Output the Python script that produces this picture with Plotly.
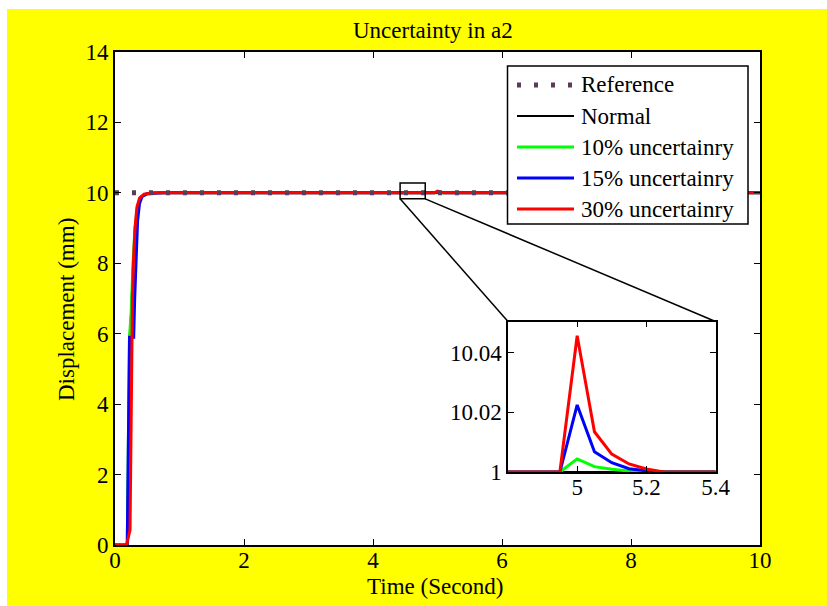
import plotly.graph_objects as go

# ---------------- data ----------------
ref_t = [0, 10]
ref_y = [10, 10]

tail_t = [0.8, 1.0, 2.0, 4.0, 4.9, 4.95, 5.0, 5.05, 5.1, 5.15, 5.2, 5.25, 5.3, 6.0, 8.0, 10.0]
normal_tail = [10, 10, 10, 10, 10, 10, 10.0, 10.0, 10.0, 10.0, 10.0, 10, 10, 10, 10, 10]
u10_tail = [10, 10, 10, 10, 10, 10, 10.0044, 10.0018, 10.0009, 10.0003, 10.0001, 10, 10, 10, 10, 10]
u15_tail = [10, 10, 10, 10, 10, 10, 10.0225, 10.0068, 10.0031, 10.0011, 10.0004, 10, 10, 10, 10, 10]
u30_tail = [10, 10, 10, 10, 10, 10, 10.0457, 10.0135, 10.006, 10.0027, 10.001, 10, 10, 10, 10, 10]

normal_rise_t = [0, 0.19, 0.225, 0.25, 0.28, 0.31, 0.35, 0.4, 0.5, 0.65]
normal_rise_y = [0, 0, 5.9, 6.6, 8.0, 9.0, 9.6, 9.88, 9.97, 10]
u10_rise_t = [0, 0.19, 0.225, 0.25, 0.28, 0.31, 0.35, 0.4, 0.5, 0.65]
u10_rise_y = [0, 0, 5.9, 6.6, 8.0, 9.0, 9.6, 9.88, 9.97, 10]
u15_rise_t = [0, 0.19, 0.225, 0.29, 0.305, 0.325, 0.35, 0.38, 0.42, 0.5, 0.7]
u15_rise_y = [0, 0, 5.9, 5.9, 7.0, 8.0, 9.2, 9.7, 9.9, 9.98, 10]
u30_rise_t = [0, 0.18, 0.233, 0.258, 0.27, 0.285, 0.31, 0.34, 0.38, 0.45, 0.6]
u30_rise_y = [0, 0, 0.43, 5.9, 7.0, 8.0, 9.0, 9.6, 9.85, 9.96, 10]

series_names = ["Normal", "10% uncertainry", "15% uncertainry", "30% uncertainry"]
series_colors = ["#000000", "#00FF00", "#0000FF", "#FF0000"]
series_widths = [2, 3, 3, 3]
series_t = [normal_rise_t + tail_t, u10_rise_t + tail_t, u15_rise_t + tail_t, u30_rise_t + tail_t]
series_y = [normal_rise_y + normal_tail, u10_rise_y + u10_tail, u15_rise_y + u15_tail, u30_rise_y + u30_tail]

ref_color = "#5B3B5B"

main_xticks = [0, 2, 4, 6, 8, 10]
main_yticks = [0, 2, 4, 6, 8, 10, 12, 14]
inset_xticks = [5, 5.2, 5.4]
inset_xtext = ["5", "5.2", "5.4"]
inset_yticks = [10.0, 10.02, 10.04]
inset_ytext = ["1", "10.02", "10.04"]

zoom_box_x = [4.42, 4.81]
zoom_box_y = [9.83, 10.28]

# ---------------- layout geometry ----------------
W, H = 827, 606
L, R, T, B = 115, 760, 52, 545
XR = [0, 10]
YR = [0, 14]
FONT = "Liberation Serif, Times New Roman, serif"
FS = 23


def px2paper(px, py):
    return (px - L) / (R - L), (B - py) / (B - T)


def data2paper(x, y):
    return (x - XR[0]) / (XR[1] - XR[0]), (y - YR[0]) / (YR[1] - YR[0])


ins_x0, ins_y0 = px2paper(508, 472)
ins_x1, ins_y1 = px2paper(715.5, 321.5)

fig = go.Figure()

for axes in [("x", "y"), ("x2", "y2")]:
    for n, c, w, t, y in zip(series_names, series_colors, series_widths, series_t, series_y):
        fig.add_trace(go.Scatter(x=t, y=y, mode="lines", name=n, xaxis=axes[0], yaxis=axes[1],
                                 line=dict(color=c, width=w), showlegend=False, hoverinfo="skip"))
fig.add_trace(go.Scatter(x=ref_t, y=ref_y, mode="lines", name="Reference",
                         line=dict(color=ref_color, width=5, dash="4px,13px"), showlegend=False))

tickfont = dict(family=FONT, size=FS, color="black")
axis_common = dict(showline=True, linecolor="black", mirror="ticks", ticks="inside",
                   ticklen=6, tickwidth=1, tickcolor="black", showgrid=False, zeroline=False,
                   tickfont=tickfont)

fig.update_layout(
    width=W, height=H,
    font=dict(family=FONT, size=FS, color="black"),
    margin=dict(l=L, r=W - R, t=T, b=H - B, pad=0),
    paper_bgcolor="white", plot_bgcolor="white",
    showlegend=False,
    xaxis=dict(range=XR, tickvals=main_xticks, linewidth=2, ticklabelstandoff=-7, **axis_common),
    yaxis=dict(range=YR, tickvals=main_yticks, linewidth=2, ticklabelstandoff=0, **axis_common),
    xaxis2=dict(domain=[ins_x0, ins_x1], anchor="y2", range=[4.8, 5.4], tickvals=inset_xticks,
                ticktext=inset_xtext, linewidth=1.5, ticklabelstandoff=-6, **axis_common),
    yaxis2=dict(domain=[ins_y0, ins_y1], anchor="x2", range=[10.0, 10.0505], tickvals=inset_yticks,
                ticktext=inset_ytext, linewidth=1.5, ticklabelstandoff=0, **axis_common),
)

shapes = []
# yellow figure background + white plot area
yx0, yy0 = px2paper(7, 606)
yx1, yy1 = px2paper(827, 9)
shapes.append(dict(type="rect", xref="paper", yref="paper", x0=yx0, y0=yy0, x1=yx1, y1=yy1,
                   fillcolor="#FFFF00", line=dict(width=0), layer="below"))
shapes.append(dict(type="rect", xref="paper", yref="paper", x0=0, y0=0, x1=1, y1=1,
                   fillcolor="white", line=dict(width=0), layer="below"))
# zoom box and connectors
shapes.append(dict(type="rect", xref="x", yref="y", x0=zoom_box_x[0], x1=zoom_box_x[1],
                   y0=zoom_box_y[0], y1=zoom_box_y[1], line=dict(color="black", width=1.5), layer="above"))
bl = data2paper(zoom_box_x[0], zoom_box_y[0])
br = data2paper(zoom_box_x[1], zoom_box_y[0])
shapes.append(dict(type="line", xref="paper", yref="paper", x0=bl[0], y0=bl[1], x1=ins_x0, y1=ins_y1,
                   line=dict(color="black", width=1.5)))
shapes.append(dict(type="line", xref="paper", yref="paper", x0=br[0], y0=br[1], x1=ins_x1, y1=ins_y1,
                   line=dict(color="black", width=1.5)))

# manual legend
lx0, ly0 = px2paper(507.5, 224)
lx1, ly1 = px2paper(748, 66)
shapes.append(dict(type="rect", xref="paper", yref="paper", x0=lx0, y0=ly0, x1=lx1, y1=ly1,
                   fillcolor="white", line=dict(color="black", width=1.5), layer="above"))
leg_names = ["Reference"] + series_names
leg_colors = [ref_color] + series_colors
leg_widths = [5] + series_widths
leg_dash = ["4px,13px", "solid", "solid", "solid", "solid"]
row_y = [85, 116, 147, 178, 209]
annotations = []
for name, c, w, d, ry in zip(leg_names, leg_colors, leg_widths, leg_dash, row_y):
    a = px2paper(517, ry)
    b = px2paper(574, ry)
    shapes.append(dict(type="line", xref="paper", yref="paper", x0=a[0], y0=a[1], x1=b[0], y1=b[1],
                       line=dict(color=c, width=w, dash=d), layer="above"))
    tx, ty = px2paper(579, ry)
    annotations.append(dict(xref="paper", yref="paper", x=tx, y=ty, text=name, showarrow=False,
                            xanchor="left", yanchor="middle", font=tickfont))

# titles
tx, ty = px2paper(433, 30)
annotations.append(dict(xref="paper", yref="paper", x=tx, y=ty, text="Uncertainty in a2", showarrow=False,
                        xanchor="center", yanchor="middle", font=tickfont))
tx, ty = px2paper(435, 586)
annotations.append(dict(xref="paper", yref="paper", x=tx, y=ty, text="Time (Second)", showarrow=False,
                        xanchor="center", yanchor="middle", font=tickfont))
tx, ty = px2paper(66, 310)
annotations.append(dict(xref="paper", yref="paper", x=tx, y=ty, text="Displacement (mm)", showarrow=False,
                        textangle=-90, xanchor="center", yanchor="middle", font=tickfont))

fig.update_layout(shapes=shapes, annotations=annotations)
fig.write_html("out.html")
